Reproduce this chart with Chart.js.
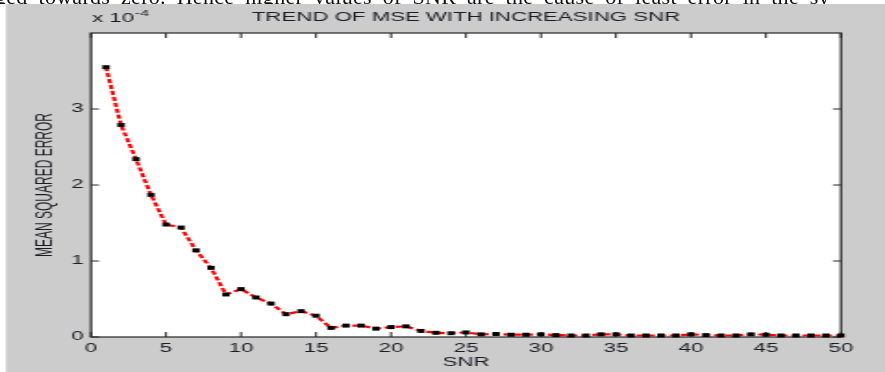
<!DOCTYPE html>
<html>
<head>
<meta charset="utf-8">
<script src="https://cdn.jsdelivr.net/npm/chart.js@4.4.1/dist/chart.umd.min.js"></script>
<style>
  html, body { margin: 0; padding: 0; background: #fff; }
  body { width: 885px; height: 372px; position: relative; overflow: hidden; }
  #page-text { position: absolute; left: 0; top: 0; width: 885px; height: 4px; overflow: hidden; z-index: 2; }
  #page-text span { position: absolute; left: -5px; top: -16px; font: 22px 'Liberation Serif', 'Times New Roman', serif; white-space: nowrap; color: #111; word-spacing: 5px; letter-spacing: 0.3px; }
  #chart { position: absolute; left: 0; top: 0; }
</style>
</head>
<body>
<div id="page-text"><span>ged towards zero. Hence higher values of SNR are the cause of least error in the sy</span></div>
<!-- the figure is drawn narrow and stretched wide, like the reference -->
<canvas id="chart" width="478" height="372" style="width:885px;height:372px"></canvas>
<script>
// SNR values on the x axis
const snr = [1, 2, 3, 4, 5, 6, 7, 8, 9, 10,
  11, 12, 13, 14, 15, 16, 17, 18, 19, 20,
  21, 22, 23, 24, 25, 26, 27, 28, 29, 30,
  31, 32, 33, 34, 35, 36, 37, 38, 39, 40,
  41, 42, 43, 44, 45, 46, 47, 48, 49, 50];

// mean squared error, in units of 10^-4 (as the axis shows)
const mse = [3.55, 2.79, 2.34, 1.87, 1.48, 1.44, 1.14, 0.91, 0.56, 0.63,
  0.52, 0.44, 0.30, 0.34, 0.28, 0.12, 0.15, 0.15, 0.11, 0.13,
  0.14, 0.08, 0.055, 0.05, 0.06, 0.035, 0.04, 0.03, 0.03, 0.035,
  0.025, 0.02, 0.02, 0.035, 0.035, 0.02, 0.02, 0.02, 0.02, 0.035,
  0.025, 0.02, 0.02, 0.035, 0.03, 0.02, 0.02, 0.02, 0.02, 0.02];

const xTicks = [0, 5, 10, 15, 20, 25, 30, 35, 40, 45, 50];
const yTicks = [0, 1, 2, 3];

const titleText = 'TREND OF MSE WITH INCREASING SNR';
const xTitle = 'SNR';
const yTitle = 'MEAN SQUARED ERROR';
const exponentBase = 'x 10';
const exponentPower = '-4';

const FONT = '"Liberation Sans", Arial, sans-serif';
const TEXT = '#1c1c24';
const AXIS = '#262626';

const matlabFrame = {
  id: 'matlabFrame',
  beforeDraw(chart) {
    const { ctx, width, height, chartArea: a } = chart;
    ctx.save();
    ctx.fillStyle = '#ffffff';
    ctx.fillRect(0, 0, width, height);
    ctx.fillStyle = '#cccccc';
    ctx.fillRect(3.2, 4, width, height);
    ctx.fillStyle = '#ffffff';
    ctx.fillRect(a.left, a.top, a.right - a.left, a.bottom - a.top);
    ctx.restore();
  },
  beforeDatasetsDraw(chart) {
    const { ctx, chartArea: a, scales } = chart;
    ctx.save();
    ctx.strokeStyle = AXIS;
    ctx.lineWidth = 1.2;
    ctx.strokeRect(a.left, a.top, a.right - a.left, a.bottom - a.top);
    ctx.lineWidth = 1;
    ctx.beginPath();
    // inward tick marks on all four sides
    scales.x.ticks.forEach(t => {
      const px = scales.x.getPixelForValue(t.value);
      ctx.moveTo(px, a.bottom); ctx.lineTo(px, a.bottom - 5);
      ctx.moveTo(px, a.top); ctx.lineTo(px, a.top + 5);
    });
    scales.y.ticks.forEach(t => {
      const py = scales.y.getPixelForValue(t.value);
      ctx.moveTo(a.left, py); ctx.lineTo(a.left + 4.3, py);
      ctx.moveTo(a.right, py); ctx.lineTo(a.right - 4.3, py);
    });
    ctx.stroke();
    ctx.restore();
  },
  afterDraw(chart) {
    const { ctx, chartArea: a } = chart;
    ctx.save();
    ctx.fillStyle = TEXT;
    ctx.font = '12px ' + FONT;
    ctx.textAlign = 'center';
    ctx.textBaseline = 'middle';
    ctx.fillText(titleText, (a.left + a.right) / 2, 18);
    ctx.textAlign = 'left';
    ctx.fillText(exponentBase, a.left + 0.5, 19);
    const w = ctx.measureText(exponentBase).width;
    ctx.font = '8.5px ' + FONT;
    ctx.fillText(exponentPower, a.left + 1 + w, 13.5);
    ctx.restore();
  }
};

new Chart(document.getElementById('chart'), {
  type: 'line',
  data: {
    datasets: [{
      data: snr.map((s, i) => ({ x: s, y: mse[i] })),
      borderColor: '#ff0000',
      borderWidth: 2.2,
      borderDash: [4, 2],
      pointStyle: 'rect',
      pointRadius: 2.8,
      pointBackgroundColor: '#000000',
      pointBorderColor: '#000000',
      pointBorderWidth: 0,
      tension: 0,
      clip: false,
    }],
  },
  options: {
    responsive: false,
    animation: false,
    devicePixelRatio: 1,
    layout: { padding: { top: 33, right: 23.8, left: 0, bottom: 0 } },
    plugins: { legend: { display: false }, tooltip: { enabled: false } },
    scales: {
      x: {
        type: 'linear',
        min: 0,
        max: 50,
        afterBuildTicks: s => { s.ticks = xTicks.map(v => ({ value: v })); },
        afterFit: s => { s.height = 35; },
        ticks: { padding: 4, color: TEXT, font: { family: FONT, size: 12 }, maxRotation: 0, autoSkip: false },
        grid: { display: false, drawTicks: false },
        border: { display: false },
        title: { display: true, text: xTitle, color: TEXT, font: { family: FONT, size: 12 }, padding: { top: 0, bottom: 2 } },
      },
      y: {
        min: 0,
        max: 4,
        afterBuildTicks: s => { s.ticks = yTicks.map(v => ({ value: v })); },
        afterFit: s => { s.width = 49.15; },
        ticks: { padding: 4, color: TEXT, font: { family: FONT, size: 12 } },
        grid: { display: false, drawTicks: false },
        border: { display: false },
        title: { display: true, text: yTitle, color: TEXT, font: { family: FONT, size: 12 }, padding: { top: 17, bottom: 0 } },
      },
    },
  },
  plugins: [matlabFrame],
});
</script>
</body>
</html>
